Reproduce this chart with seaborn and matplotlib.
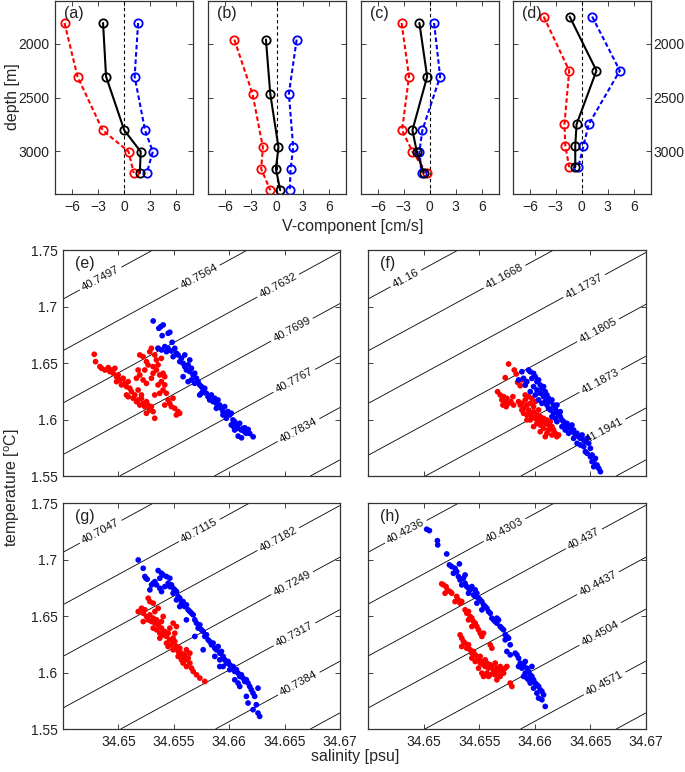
import numpy as np
import pandas as pd
import matplotlib
matplotlib.use("Agg")
import matplotlib.pyplot as plt
import seaborn as sns

sns.set_style("white")
plt.rcParams['font.family'] = ['Liberation Sans', 'DejaVu Sans']
plt.rcParams['mathtext.fontset'] = 'custom'
plt.rcParams['mathtext.rm'] = 'Liberation Sans'
plt.rcParams['axes.edgecolor'] = '#333333'
plt.rcParams['axes.linewidth'] = 0.9

# ---------------- profile data (V-component, cm/s) ----------------
depth_a = [1805, 2305, 2805, 3005, 3205]
red_a = [-6.9, -5.4, -2.5, 0.5, 1.1]
black_a = [-2.45, -2.1, 0.0, 1.9, 1.8]
blue_a = [1.6, 1.2, 2.4, 3.3, 2.6]

depth_b = [1960, 2465, 2965, 3165, 3365]
red_b = [-4.9, -2.8, -1.6, -1.8, -0.75]
black_b = [-1.25, -0.75, 0.2, -0.1, 0.4]
blue_b = [2.3, 1.4, 1.9, 1.6, 1.5]

depth_c = [1805, 2305, 2805, 3005, 3205]
red_c = [-3.25, -2.4, -3.2, -2.0, -0.35]
black_c = [-1.2, -0.3, -2.0, -1.5, -0.7]
blue_c = [0.5, 1.2, -0.85, -1.2, -0.95]

depth_d = [1745, 2250, 2750, 2950, 3150]
red_d = [-4.4, -1.45, -2.0, -1.9, -1.45]
black_d = [-1.4, 1.7, -0.6, -0.75, -0.75]
blue_d = [1.2, 4.4, 0.8, 0.2, -0.4]

profile_labels = ['(a)', '(b)', '(c)', '(d)']
v_ticks = [-6, -3, 0, 3, 6]
depth_ticks = [2000, 2500, 3000]

# ---------------- T-S data ----------------
e_red_S = [34.64782, 34.64794, 34.64833, 34.64848, 34.64878, 34.64908, 34.64923, 34.64938, 34.64953, 34.64968,
           34.64983, 34.64998, 34.64983, 34.65013, 34.65028, 34.65043, 34.65058, 34.65073, 34.65088, 34.65103,
           34.65073, 34.65088, 34.65118, 34.65133, 34.65148, 34.65163, 34.65178, 34.65193, 34.65208, 34.65223,
           34.65238, 34.65253, 34.65268, 34.65283, 34.65298, 34.65313, 34.65328, 34.65253, 34.65208, 34.65178,
           34.65193, 34.65223, 34.65253, 34.65283, 34.65298, 34.65328, 34.65343, 34.65358, 34.65313, 34.65268,
           34.65238, 34.65178, 34.65193, 34.65163, 34.65223, 34.65253, 34.65298, 34.65313, 34.65343, 34.65373,
           34.65403, 34.65418, 34.65388, 34.65358, 34.65418, 34.65403, 34.65433, 34.65373, 34.65328, 34.65448,
           34.65463, 34.65493, 34.65478, 34.65508, 34.65538, 34.65553, 34.65523, 34.65418, 34.65388, 34.65358]
e_red_T = [1.6577, 1.6512, 1.6468, 1.6453, 1.6438, 1.6459, 1.6424, 1.6438, 1.6409, 1.6453,
           1.6379, 1.6394, 1.6335, 1.6350, 1.6306, 1.6365, 1.6320, 1.6291, 1.6335, 1.6276,
           1.6217, 1.6202, 1.6247, 1.6188, 1.6217, 1.6158, 1.6173, 1.6128, 1.6188, 1.6143,
           1.6114, 1.6158, 1.6128, 1.6084, 1.6114, 1.6070, 1.6011, 1.6055, 1.6217, 1.6261,
           1.6571, 1.6556, 1.6512, 1.6600, 1.6630, 1.6571, 1.6527, 1.6483, 1.6468, 1.6483,
           1.6438, 1.6438, 1.6394, 1.6365, 1.6350, 1.6320, 1.6365, 1.6409, 1.6438, 1.6394,
           1.6409, 1.6379, 1.6335, 1.6306, 1.6306, 1.6261, 1.6232, 1.6232, 1.6217, 1.6173,
           1.6143, 1.6188, 1.6114, 1.6099, 1.6070, 1.6055, 1.6040, 1.6128, 1.6541, 1.6630]
e_blue_S = [34.65314, 34.65365, 34.65383, 34.65404, 34.65395, 34.65449, 34.65464, 34.65485, 34.65419, 34.65359,
            34.65389, 34.65449, 34.65434, 34.65479, 34.65509, 34.65524, 34.65494, 34.65539, 34.65569, 34.65554,
            34.65584, 34.65599, 34.65629, 34.65614, 34.65644, 34.65659, 34.65674, 34.65689, 34.65704, 34.65659,
            34.65719, 34.65734, 34.65689, 34.65749, 34.65764, 34.65779, 34.65734, 34.65749, 34.65794, 34.65809,
            34.65824, 34.65839, 34.65854, 34.65869, 34.65884, 34.65899, 34.65914, 34.65929, 34.65884, 34.65944,
            34.65959, 34.65974, 34.65989, 34.66004, 34.66019, 34.65944, 34.65974, 34.66034, 34.66049, 34.66019,
            34.66064, 34.66079, 34.66094, 34.66109, 34.66124, 34.66139, 34.66154, 34.66049, 34.65584, 34.65629,
            34.65599, 34.65644, 34.66081, 34.66111, 34.66171, 34.66216, 34.66186, 34.66141, 34.66036]
e_blue_T = [1.6872, 1.6807, 1.6822, 1.6837, 1.6742, 1.6763, 1.6772, 1.6683, 1.6645, 1.6630,
            1.6615, 1.6630, 1.6600, 1.6606, 1.6630, 1.6586, 1.6556, 1.6571, 1.6542, 1.6512,
            1.6497, 1.6468, 1.6483, 1.6438, 1.6424, 1.6453, 1.6394, 1.6409, 1.6365, 1.6350,
            1.6335, 1.6306, 1.6320, 1.6291, 1.6261, 1.6276, 1.6217, 1.6232, 1.6232, 1.6202,
            1.6173, 1.6217, 1.6158, 1.6188, 1.6143, 1.6173, 1.6128, 1.6099, 1.6099, 1.6070,
            1.6114, 1.6055, 1.6070, 1.6040, 1.6055, 1.6040, 1.6011, 1.5996, 1.5981, 1.5952,
            1.5952, 1.5922, 1.5966, 1.5907, 1.5922, 1.5892, 1.5878, 1.5907, 1.6379, 1.6335,
            1.6571, 1.6527, 1.5853, 1.5838, 1.5912, 1.5847, 1.5876, 1.5926, 1.5941]

f_red_S = [34.65764, 34.65815, 34.65833, 34.65734, 34.65884, 34.65914, 34.65869, 34.65845, 34.65665, 34.65689,
           34.65719, 34.65704, 34.65734, 34.65749, 34.65764, 34.65785, 34.65803, 34.65809, 34.65743, 34.65713,
           34.65854, 34.65869, 34.65884, 34.65899, 34.65914, 34.65929, 34.65944, 34.65959, 34.65974, 34.65989,
           34.65899, 34.65929, 34.65959, 34.65974, 34.65989, 34.66004, 34.66019, 34.66034, 34.66049, 34.66064,
           34.66079, 34.66094, 34.66109, 34.66124, 34.66139, 34.66154, 34.66169, 34.66184, 34.66199, 34.66214,
           34.66124, 34.66079, 34.66049, 34.66019, 34.65959, 34.65989, 34.66154, 34.66109, 34.65929, 34.65884,
           34.65914, 34.65944, 34.66004, 34.66034, 34.66049, 34.66094]
f_red_T = [1.6491, 1.6438, 1.6403, 1.6370, 1.6350, 1.6305, 1.6299, 1.6329, 1.6246, 1.6217,
           1.6202, 1.6173, 1.6158, 1.6187, 1.6143, 1.6158, 1.6202, 1.6128, 1.6114, 1.6128,
           1.6158, 1.6128, 1.6143, 1.6099, 1.6173, 1.6128, 1.6084, 1.6143, 1.6187, 1.6114,
           1.6055, 1.6040, 1.6055, 1.6025, 1.6069, 1.6010, 1.6040, 1.5996, 1.6025, 1.5981,
           1.6010, 1.5966, 1.5996, 1.5951, 1.5981, 1.5937, 1.5907, 1.5878, 1.5848, 1.5863,
           1.5907, 1.5922, 1.5951, 1.5966, 1.5996, 1.5937, 1.5863, 1.5878, 1.5996, 1.6084,
           1.6217, 1.6202, 1.6158, 1.6084, 1.5892, 1.5848]
f_blue_S = [34.65944, 34.65959, 34.65989, 34.65884, 34.65899, 34.65854, 34.65929, 34.65974, 34.66004, 34.66019,
            34.66034, 34.66049, 34.66064, 34.66079, 34.65989, 34.66019, 34.66049, 34.66094, 34.66109, 34.66079,
            34.66124, 34.66139, 34.66154, 34.66169, 34.66109, 34.66184, 34.66199, 34.66139, 34.66169, 34.66214,
            34.66229, 34.66244, 34.66199, 34.66259, 34.66274, 34.66289, 34.66304, 34.66319, 34.66274, 34.66334,
            34.66349, 34.66364, 34.66379, 34.66394, 34.66410, 34.66425, 34.66440, 34.66455, 34.66470, 34.66380,
            34.66410, 34.66440, 34.66485, 34.66500, 34.66455, 34.66470, 34.66500, 34.66515, 34.66530, 34.66545,
            34.66560, 34.66575, 34.66590, 34.66530, 34.66515, 34.65914, 34.65959, 34.66004, 34.66034, 34.66064,
            34.66094, 34.66124, 34.66154, 34.66184, 34.66229, 34.66199, 34.66244, 34.66304, 34.66349, 34.66334]
f_blue_T = [1.6438, 1.6423, 1.6408, 1.6423, 1.6364, 1.6350, 1.6335, 1.6364, 1.6379, 1.6335,
            1.6350, 1.6305, 1.6276, 1.6291, 1.6291, 1.6261, 1.6232, 1.6246, 1.6217, 1.6202,
            1.6187, 1.6158, 1.6173, 1.6128, 1.6128, 1.6099, 1.6069, 1.6084, 1.6055, 1.6040,
            1.6025, 1.5996, 1.5981, 1.5981, 1.5951, 1.5966, 1.5937, 1.5922, 1.5907, 1.5892,
            1.5907, 1.5863, 1.5878, 1.5848, 1.5833, 1.5863, 1.5819, 1.5804, 1.5833, 1.5789,
            1.5774, 1.5760, 1.5789, 1.5745, 1.5715, 1.5701, 1.5671, 1.5686, 1.5627, 1.5656,
            1.5597, 1.5568, 1.5538, 1.5582, 1.5627, 1.6305, 1.6246, 1.6217, 1.6173, 1.6143,
            1.6158, 1.6099, 1.6025, 1.6010, 1.6069, 1.6128, 1.5937, 1.5878, 1.5833, 1.5951]

g_red_S = [34.65179, 34.65209, 34.65224, 34.65239, 34.65269, 34.65284, 34.65314, 34.65254, 34.65224, 34.65269,
           34.65284, 34.65299, 34.65314, 34.65329, 34.65344, 34.65314, 34.65344, 34.65359, 34.65374, 34.65389,
           34.65404, 34.65374, 34.65419, 34.65434, 34.65449, 34.65464, 34.65434, 34.65479, 34.65494, 34.65509,
           34.65524, 34.65494, 34.65539, 34.65554, 34.65569, 34.65584, 34.65599, 34.65614, 34.65630, 34.65645,
           34.65584, 34.65614, 34.65660, 34.65675, 34.65705, 34.65735, 34.65780, 34.65524, 34.65494, 34.65359,
           34.65329, 34.65509, 34.65539, 34.65569, 34.65404, 34.65389, 34.65464, 34.65449, 34.65645, 34.65614]
g_red_T = [1.6541, 1.6570, 1.6526, 1.6556, 1.6659, 1.6629, 1.6615, 1.6497, 1.6452, 1.6467,
           1.6511, 1.6452, 1.6482, 1.6438, 1.6467, 1.6394, 1.6379, 1.6423, 1.6349, 1.6394,
           1.6334, 1.6305, 1.6364, 1.6320, 1.6349, 1.6290, 1.6261, 1.6246, 1.6305, 1.6275,
           1.6231, 1.6202, 1.6187, 1.6216, 1.6172, 1.6143, 1.6158, 1.6113, 1.6128, 1.6084,
           1.6084, 1.6054, 1.6039, 1.6010, 1.5980, 1.5951, 1.5921, 1.6408, 1.6438, 1.6570,
           1.6541, 1.6349, 1.6143, 1.6113, 1.6497, 1.6452, 1.6394, 1.6231, 1.6172, 1.6202]
g_blue_S = [34.65179, 34.65224, 34.65248, 34.65260, 34.65239, 34.65359, 34.65389, 34.65404, 34.65374, 34.65434,
            34.65464, 34.65314, 34.65329, 34.65299, 34.65344, 34.65284, 34.65374, 34.65389, 34.65419, 34.65449,
            34.65464, 34.65479, 34.65494, 34.65509, 34.65524, 34.65494, 34.65539, 34.65524, 34.65554, 34.65569,
            34.65584, 34.65554, 34.65599, 34.65614, 34.65630, 34.65645, 34.65660, 34.65614, 34.65675, 34.65690,
            34.65705, 34.65735, 34.65720, 34.65750, 34.65765, 34.65780, 34.65690, 34.65795, 34.65810, 34.65825,
            34.65765, 34.65840, 34.65855, 34.65870, 34.65885, 34.65900, 34.65915, 34.65930, 34.65945, 34.65870,
            34.65915, 34.65960, 34.65975, 34.65990, 34.66005, 34.65945, 34.66020, 34.66035, 34.66050, 34.66065,
            34.66080, 34.66095, 34.66110, 34.66125, 34.66050, 34.66140, 34.66155, 34.66170, 34.66185, 34.66095,
            34.66200, 34.66215, 34.66155, 34.66170, 34.66230, 34.66245, 34.66260, 34.66275, 34.66215, 34.66260,
            34.66080, 34.66005, 34.65915]
g_blue_T = [1.6998, 1.6924, 1.6836, 1.6827, 1.6851, 1.6904, 1.6880, 1.6865, 1.6836, 1.6851,
            1.6836, 1.6792, 1.6806, 1.6777, 1.6777, 1.6733, 1.6747, 1.6718, 1.6762, 1.6792,
            1.6762, 1.6777, 1.6747, 1.6733, 1.6718, 1.6703, 1.6674, 1.6644, 1.6659, 1.6615,
            1.6629, 1.6585, 1.6585, 1.6600, 1.6556, 1.6541, 1.6526, 1.6467, 1.6511, 1.6467,
            1.6438, 1.6423, 1.6394, 1.6379, 1.6364, 1.6320, 1.6320, 1.6335, 1.6290, 1.6275,
            1.6202, 1.6246, 1.6261, 1.6216, 1.6202, 1.6231, 1.6172, 1.6187, 1.6143, 1.6143,
            1.6113, 1.6113, 1.6084, 1.6098, 1.6069, 1.6054, 1.6039, 1.6054, 1.6010, 1.6025,
            1.5995, 1.5966, 1.5980, 1.5951, 1.5936, 1.5921, 1.5936, 1.5907, 1.5877, 1.5877,
            1.5848, 1.5818, 1.5789, 1.5730, 1.5789, 1.5715, 1.5641, 1.5612, 1.5671, 1.5862,
            1.5907, 1.6025, 1.6054]

h_red_S = [34.65163, 34.65178, 34.65202, 34.65214, 34.65193, 34.65238, 34.65253, 34.65298, 34.65313, 34.65283,
           34.65328, 34.65343, 34.65373, 34.65388, 34.65404, 34.65419, 34.65404, 34.65434, 34.65449, 34.65464,
           34.65479, 34.65434, 34.65494, 34.65509, 34.65539, 34.65524, 34.65328, 34.65343, 34.65358, 34.65373,
           34.65343, 34.65388, 34.65404, 34.65419, 34.65434, 34.65449, 34.65464, 34.65479, 34.65494, 34.65434,
           34.65509, 34.65524, 34.65539, 34.65554, 34.65569, 34.65584, 34.65599, 34.65614, 34.65629, 34.65644,
           34.65659, 34.65674, 34.65689, 34.65704, 34.65719, 34.65734, 34.65749, 34.65599, 34.65614, 34.65629,
           34.65569, 34.65524, 34.65539, 34.65584, 34.65644, 34.65659, 34.65599, 34.65779, 34.65794, 34.65689,
           34.65494, 34.65464, 34.65509, 34.65554]
h_red_T = [1.6786, 1.6777, 1.6762, 1.6733, 1.6703, 1.6718, 1.6703, 1.6674, 1.6644, 1.6629,
           1.6615, 1.6629, 1.6556, 1.6526, 1.6541, 1.6497, 1.6467, 1.6482, 1.6452, 1.6438,
           1.6408, 1.6408, 1.6379, 1.6349, 1.6349, 1.6320, 1.6334, 1.6305, 1.6275, 1.6261,
           1.6231, 1.6216, 1.6246, 1.6202, 1.6172, 1.6187, 1.6157, 1.6143, 1.6113, 1.6128,
           1.6084, 1.6098, 1.6069, 1.6054, 1.6084, 1.6039, 1.6069, 1.6054, 1.6025, 1.6084,
           1.6039, 1.6010, 1.6054, 1.6025, 1.5995, 1.6039, 1.6054, 1.6246, 1.6216, 1.6010,
           1.5995, 1.5995, 1.5966, 1.5966, 1.5980, 1.5936, 1.5980, 1.5907, 1.5877, 1.5966,
           1.6039, 1.6098, 1.6143, 1.6113]
h_blue_S = [34.65028, 34.65052, 34.65124, 34.65127, 34.65208, 34.65232, 34.65253, 34.65322, 34.65268, 34.65298,
            34.65313, 34.65328, 34.65358, 34.65373, 34.65343, 34.65388, 34.65404, 34.65419, 34.65434, 34.65404,
            34.65449, 34.65464, 34.65479, 34.65494, 34.65509, 34.65524, 34.65479, 34.65539, 34.65554, 34.65569,
            34.65584, 34.65524, 34.65599, 34.65614, 34.65629, 34.65644, 34.65659, 34.65674, 34.65689, 34.65704,
            34.65719, 34.65734, 34.65749, 34.65764, 34.65734, 34.65779, 34.65749, 34.65779, 34.65824, 34.65839,
            34.65854, 34.65869, 34.65899, 34.65914, 34.65884, 34.65929, 34.65944, 34.65914, 34.65959, 34.65974,
            34.65929, 34.65989, 34.66004, 34.65959, 34.66019, 34.66034, 34.65989, 34.66049, 34.66064, 34.66019,
            34.66034, 34.66064, 34.66079, 34.66094, 34.65944, 34.65974, 34.65854, 34.65899, 34.65659, 34.65464,
            34.65373, 34.65283]
h_blue_T = [1.7270, 1.7258, 1.7169, 1.7131, 1.7051, 1.6954, 1.6939, 1.6963, 1.6880, 1.6895,
            1.6851, 1.6821, 1.6836, 1.6792, 1.6777, 1.6762, 1.6747, 1.6733, 1.6762, 1.6703,
            1.6688, 1.6674, 1.6703, 1.6659, 1.6644, 1.6629, 1.6615, 1.6600, 1.6585, 1.6570,
            1.6541, 1.6556, 1.6526, 1.6482, 1.6467, 1.6452, 1.6438, 1.6467, 1.6408, 1.6393,
            1.6379, 1.6334, 1.6320, 1.6305, 1.6290, 1.6246, 1.6187, 1.6157, 1.6172, 1.6157,
            1.6128, 1.6084, 1.6069, 1.6098, 1.6039, 1.6039, 1.6010, 1.5995, 1.5980, 1.5966,
            1.5951, 1.5936, 1.5907, 1.5907, 1.5892, 1.5877, 1.5862, 1.5848, 1.5833, 1.5818,
            1.5774, 1.5759, 1.5803, 1.5700, 1.5936, 1.6054, 1.6054, 1.5966, 1.6482, 1.6733,
            1.6865, 1.6924]

# density contour levels for each T-S panel (first six are labelled)
e_levels = [40.7497, 40.7564, 40.7632, 40.7699, 40.7767, 40.7834, 40.7902]
f_levels = [41.16, 41.1668, 41.1737, 41.1805, 41.1873, 41.1941, 41.2009]
g_levels = [40.7047, 40.7115, 40.7182, 40.7249, 40.7317, 40.7384, 40.7451]
h_levels = [40.4236, 40.4303, 40.437, 40.4437, 40.4504, 40.4571, 40.4638]

ts_labels = ['(e)', '(f)', '(g)', '(h)']
sal_ticks = [34.65, 34.655, 34.66, 34.665, 34.67]
temp_ticks = [1.55, 1.6, 1.65, 1.7, 1.75]

# linearised equation of state (isopycnal slope / spacing)
ISO_SLOPE = 5.348     # dT/dS along an isopycnal
T_SPACING = 0.046     # degC between successive levels at fixed S
REF_S, REF_T = 34.645, 1.7066

# ---------------- figure ----------------
W, H = 685, 772
fig = plt.figure(figsize=(W / 100, H / 100), dpi=100)


def px_axes(x0, x1, y0, y1):
    return fig.add_axes([x0 / W, 1 - y1 / H, (x1 - x0) / W, (y1 - y0) / H])


def style_ticks(ax):
    ax.tick_params(direction='in', length=3.5, width=0.6, top=True, right=True,
                   bottom=True, left=True, labelsize=10, colors='#222222', pad=4)
    for s in ax.spines.values():
        s.set_color('#333333')
        s.set_linewidth(0.9)


prof_pos = [(55, 193.5), (207.5, 346), (360.5, 499), (512.5, 651)]
prof_data = [(depth_a, red_a, black_a, blue_a), (depth_b, red_b, black_b, blue_b),
             (depth_c, red_c, black_c, blue_c), (depth_d, red_d, black_d, blue_d)]
dash = (0, (2.2, 1.3))
for i, ((x0, x1), (dep, rv, kv, bv)) in enumerate(zip(prof_pos, prof_data)):
    ax = px_axes(x0, x1, 1, 194)
    ax.axvline(0, color='k', lw=0.8, ls=(0, (3, 2.5)))
    for vals, col, ls in [(rv, 'red', dash), (bv, 'blue', dash), (kv, 'black', '-')]:
        sns.lineplot(x=vals, y=dep, sort=False, estimator=None, ax=ax, color=col,
                     linestyle=ls, linewidth=1.5, marker='o', markersize=6,
                     markerfacecolor='none', markeredgecolor=col, markeredgewidth=1.3)
    ax.set_xlim(-8, 8)
    ax.set_ylim(3400, 1600)
    ax.set_xticks(v_ticks)
    ax.set_yticks(depth_ticks)
    ax.set_xlabel('')
    ax.set_ylabel('')
    style_ticks(ax)
    if i == 0:
        ax.tick_params(labelleft=True)
    elif i == 3:
        ax.tick_params(labelleft=False, labelright=True)
        ax.tick_params(axis='y', pad=1.5)
    else:
        ax.tick_params(labelleft=False)
    ax.text(0.065, 0.935, profile_labels[i], transform=ax.transAxes, ha='left',
            va='center', fontsize=11.5, color='#222222')

fig.text(12 / W, 1 - 97 / H, 'depth [m]', rotation=90, ha='center', va='center', fontsize=11.5)
fig.text(353 / W, 1 - 226 / H, 'V-component [cm/s]', ha='center', va='center', fontsize=11.5)

# T-S panels
S_grid = np.linspace(34.645, 34.67, 80)
T_grid = np.linspace(1.55, 1.75, 80)
SS, TT = np.meshgrid(S_grid, T_grid)
LABEL_S = [34.6485, 34.6573, 34.6645, 34.6658, 34.6660, 34.6663]
LABEL_T = [1.723, 1.726, 1.717, 1.677, 1.632, 1.590]

ts_pos = [(63, 340, 250, 476), (368, 646, 250, 476), (63, 340, 503.3, 729), (368, 646, 503.3, 729)]
ts_data = [(e_red_S, e_red_T, e_blue_S, e_blue_T, e_levels),
           (f_red_S, f_red_T, f_blue_S, f_blue_T, f_levels),
           (g_red_S, g_red_T, g_blue_S, g_blue_T, g_levels),
           (h_red_S, h_red_T, h_blue_S, h_blue_T, h_levels)]
for i, ((x0, x1, y0, y1), (rS, rT, bS, bT, levs)) in enumerate(zip(ts_pos, ts_data)):
    ax = px_axes(x0, x1, y0, y1)
    ax.set_xlim(34.645, 34.67)
    ax.set_ylim(1.55, 1.75)
    step = (levs[-1] - levs[0]) / (len(levs) - 1)
    rho = levs[0] + step * (ISO_SLOPE * (SS - REF_S) - (TT - REF_T)) / T_SPACING
    cs = ax.contour(SS, TT, rho, levels=levs, colors='k', linewidths=0.6)
    ax.clabel(cs, levels=levs[:6], manual=list(zip(LABEL_S, LABEL_T)), fmt='%g',
              fontsize=8.2, inline=True, inline_spacing=3, colors='#111111')
    sns.scatterplot(x=rS, y=rT, color='red', s=17, edgecolor='none', ax=ax, zorder=3)
    sns.scatterplot(x=bS, y=bT, color='blue', s=17, edgecolor='none', ax=ax, zorder=3)
    ax.set_xlim(34.645, 34.67)
    ax.set_ylim(1.55, 1.75)
    ax.set_xticks(sal_ticks)
    ax.set_yticks(temp_ticks)
    ax.set_xticklabels(['%g' % t for t in sal_ticks])
    ax.set_yticklabels(['%g' % t for t in temp_ticks])
    ax.set_xlabel('')
    ax.set_ylabel('')
    style_ticks(ax)
    ax.tick_params(labelbottom=(i >= 2), labelleft=(i % 2 == 0))
    ax.text(0.043, 0.94, ts_labels[i], transform=ax.transAxes, ha='left',
            va='center', fontsize=11.5, color='#222222')

fig.text(12 / W, 1 - 488 / H, 'temperature [$^{\\rm o}$C]', rotation=90, ha='center',
         va='center', fontsize=11.5)
fig.text(355 / W, 1 - 757 / H, 'salinity [psu]', ha='center', va='center', fontsize=11.5)

fig.savefig('out.png', dpi=100)
